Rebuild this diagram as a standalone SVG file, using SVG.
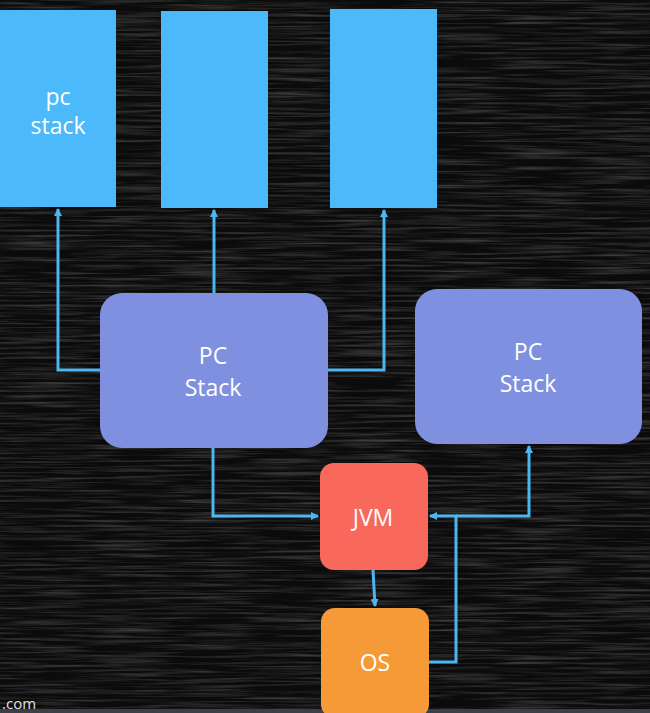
<svg xmlns="http://www.w3.org/2000/svg" width="650" height="713" viewBox="0 0 650 713">
<style>
.t{font-family:"Open Sans","Noto Sans","Liberation Sans",sans-serif;font-size:23px;fill:#fff;text-anchor:middle}
.c{fill:none;stroke:#4cb6ee;stroke-width:3}
.stk{fill:#4bb9fa}
.pc{fill:#8090e0}
</style>
<defs>
<marker id="ah" markerWidth="8" markerHeight="8" refX="7" refY="4" orient="auto" markerUnits="userSpaceOnUse">
<path d="M0,0 L8,4 L0,8 Z" fill="#4cb6ee"/>
</marker>
<filter id="n" x="0" y="0" width="1" height="1">
<feTurbulence type="fractalNoise" baseFrequency="0.012 0.4" numOctaves="3" seed="7"/>
<feColorMatrix values="0 0 0 0 0.18 0 0 0 0 0.18 0 0 0 0 0.18 0 0 0 1.0 -0.42"/>
</filter>
</defs>
<rect width="650" height="713" fill="#0b0b0b"/>
<rect width="650" height="713" filter="url(#n)"/>
<rect x="0" y="709" width="650" height="4" fill="#3a3f48"/>
<g id="connectors">
<path class="c" d="M100,370 H58 V209" marker-end="url(#ah)"/>
<path class="c" d="M214,293 V210" marker-end="url(#ah)"/>
<path class="c" d="M328,370 H384 V210" marker-end="url(#ah)"/>
<path class="c" d="M213,448 V516 H318" marker-end="url(#ah)"/>
<path class="c" d="M373,570 L375,606" marker-end="url(#ah)"/>
<path class="c" d="M429,662 H456 V516 H430" marker-end="url(#ah)"/>
<path class="c" d="M456,516 H529 V446" marker-end="url(#ah)"/>
</g>
<g id="stack1"><rect class="stk" x="0" y="10" width="116" height="197"/><text class="t" x="58" y="105">pc</text><text class="t" x="58" y="134">stack</text></g>
<g id="stack2"><rect class="stk" x="161" y="11" width="107" height="197"/></g>
<g id="stack3"><rect class="stk" x="330" y="9" width="107" height="199"/></g>
<g id="pcstack1"><rect class="pc" x="100" y="293" width="228" height="155" rx="22"/><text class="t" x="213" y="364">PC</text><text class="t" x="213" y="396">Stack</text></g>
<g id="pcstack2"><rect class="pc" x="415" y="289" width="227" height="155" rx="22"/><text class="t" x="528" y="360">PC</text><text class="t" x="528" y="392">Stack</text></g>
<g id="jvm"><rect x="320" y="463" width="108" height="107" rx="14" fill="#f8695c"/><text class="t" x="373" y="526">JVM</text></g>
<g id="os"><rect x="321" y="608" width="108" height="110" rx="14" fill="#f69a38"/><text class="t" x="375" y="671">OS</text></g>
<text x="2" y="709" font-family="Open Sans,Liberation Sans,sans-serif" font-size="15" fill="#e0e0e0">.com</text>
</svg>
